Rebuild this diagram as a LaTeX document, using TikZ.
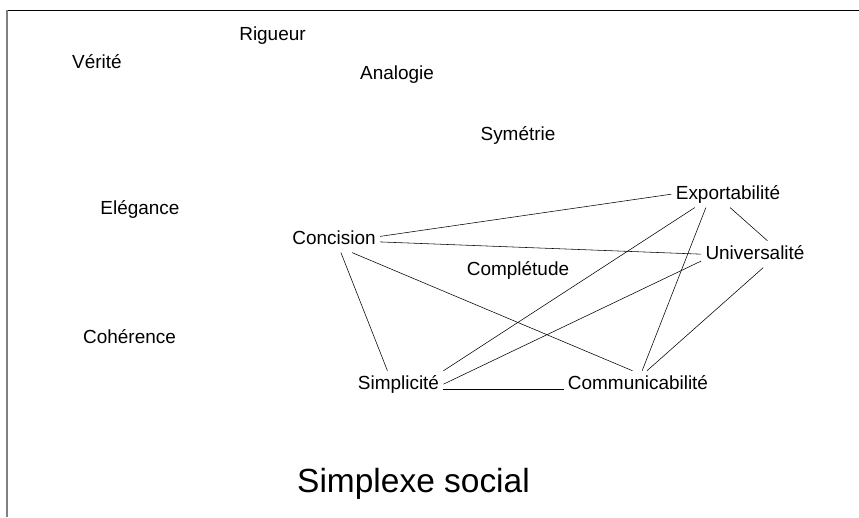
\documentclass[tikz,border=0pt]{standalone}
\usepackage{fontspec}
\setmainfont{Liberation Sans}
\begin{document}
\begin{tikzpicture}[x=0.0254cm,y=-0.0254cm,
  mot/.style={anchor=base,inner sep=3pt,text height=10pt,text depth=3pt,font=\fontsize{13.7}{16}\selectfont}]
\useasboundingbox (0,0) rectangle (859,517);
\draw[line width=0.8pt] (6,10.5) -- (859,10.5);
\draw[gray,line width=1.6pt] (7,10) -- (7,517);
%
\node[mot] (rigueur) at (272.5,40) {Rigueur};
\node[mot] (verite) at (97,68) {Vérité};
\node[mot] (analogie) at (397,79) {Analogie};
\node[mot] (symetrie) at (518,140) {Symétrie};
\node[mot] (elegance) at (140,214) {Elégance};
\node[mot] (coherence) at (129.5,343) {Cohérence};
\node[mot] (complet) at (518,275) {Complétude};
%
\node[mot] (concision) at (334,244) {Concision};
\node[mot] (export) at (728,199) {Exportabilité};
\node[mot] (univ) at (755,259) {Universalité};
\node[mot] (simpl) at (398.5,389) {Simplicité};
\node[mot] (comm) at (638,389) {Communicabilité};
%
\draw ([yshift=2pt]concision.east) -- (export.west);
\draw ([yshift=-2pt]concision.east) -- (univ.west);
\draw ([xshift=5pt]concision.south) -- ([xshift=-8pt]simpl.north);
\draw ([xshift=13pt]concision.south) -- ([xshift=-4pt]comm.north);
\draw ([xshift=-24pt]export.south) -- (simpl.north east);
\draw ([xshift=-16pt]export.south) -- ([xshift=3pt]comm.north);
\draw ([xshift=1.5pt]export.south) -- ([xshift=9pt]univ.north);
\draw ([yshift=-5pt]univ.west) -- (simpl.east);
\draw ([xshift=6pt]univ.south) -- ([xshift=6.5pt]comm.north);
\draw (simpl.base east) -- (comm.base west);
%
\node[anchor=base,font=\fontsize{24.2}{29}\selectfont] (titre) at (413.5,492) {Simplexe social};
\end{tikzpicture}
\end{document}
